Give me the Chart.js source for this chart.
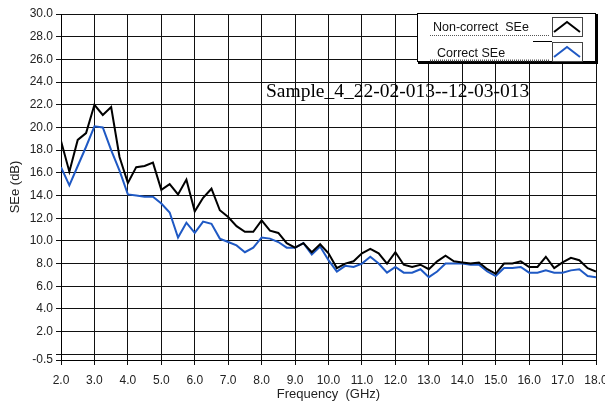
<!DOCTYPE html>
<html>
<head>
<meta charset="utf-8">
<script src="https://cdn.jsdelivr.net/npm/chart.js@4.4.1/dist/chart.umd.min.js"></script>
<style>
  html, body { margin: 0; padding: 0; background: #fff; }
  #wrap { width: 605px; height: 403px; }
</style>
</head>
<body>
<div id="wrap"><canvas id="see-chart" width="605" height="403"></canvas></div>
<script>
/*************************/
/**                     **/
/**        Data         **/
/**                     **/
/*************************/

var freqGHz = [
    2.0, 2.25, 2.5, 2.75, 3.0, 3.25, 3.5, 3.75,
    4.0, 4.25, 4.5, 4.75, 5.0, 5.25, 5.5, 5.75,
    6.0, 6.25, 6.5, 6.75, 7.0, 7.25, 7.5, 7.75,
    8.0, 8.25, 8.5, 8.75, 9.0, 9.25, 9.5, 9.75,
    10.0, 10.25, 10.5, 10.75, 11.0, 11.25, 11.5, 11.75,
    12.0, 12.25, 12.5, 12.75, 13.0, 13.25, 13.5, 13.75,
    14.0, 14.25, 14.5, 14.75, 15.0, 15.25, 15.5, 15.75,
    16.0, 16.25, 16.5, 16.75, 17.0, 17.25, 17.5, 17.75,
    18.0
];

var nonCorrectSEe = [
    18.8, 16.1, 18.9, 19.5, 22.0, 21.1, 21.8, 17.4,
    15.1, 16.5, 16.6, 16.9, 14.5, 15.0, 14.1, 15.4,
    12.6, 13.8, 14.6, 12.7, 12.1, 11.3, 10.8, 10.8,
    11.8, 10.9, 10.7, 9.8, 9.4, 9.8, 9.0, 9.7,
    8.9, 7.6, 8.0, 8.2, 8.9, 9.3, 8.9, 8.0,
    9.0, 7.9, 7.7, 7.9, 7.5, 8.2, 8.7, 8.2,
    8.1, 8.0, 8.1, 7.5, 7.1, 8.0, 8.0, 8.2,
    7.7, 7.7, 8.6, 7.6, 8.1, 8.5, 8.3, 7.6,
    7.3
];

var correctSEe = [
    16.5, 14.9, 16.6, 18.3, 20.1, 20.0, 18.0, 16.2,
    14.1, 14.0, 13.9, 13.9, 13.3, 12.5, 10.3, 11.6,
    10.7, 11.7, 11.5, 10.2, 9.9, 9.6, 9.0, 9.4,
    10.3, 10.2, 9.9, 9.4, 9.4, 9.8, 8.8, 9.5,
    8.3, 7.3, 7.8, 7.7, 8.0, 8.6, 8.0, 7.2,
    7.7, 7.2, 7.2, 7.5, 6.8, 7.3, 8.0, 8.0,
    8.0, 7.9, 7.9, 7.3, 6.9, 7.6, 7.6, 7.7,
    7.2, 7.2, 7.4, 7.2, 7.2, 7.4, 7.5, 6.9,
    6.8
];

var xTicks = [2, 3, 4, 5, 6, 7, 8, 9, 10, 11, 12, 13, 14, 15, 16, 17, 18];
var xTickLabels = ['2.0', '3.0', '4.0', '5.0', '6.0', '7.0', '8.0', '9.0', '10.0',
    '11.0', '12.0', '13.0', '14.0', '15.0', '16.0', '17.0', '18.0'];

var yTicks = [-0.5, 0, 2, 4, 6, 8, 10, 12, 14, 16, 18, 20, 22, 24, 26, 28, 30];
var yTickLabels = ['-0.5', '', '2.0', '4.0', '6.0', '8.0', '10.0', '12.0', '14.0',
    '16.0', '18.0', '20.0', '22.0', '24.0', '26.0', '28.0', '30.0'];

var seriesNames = ['Non-correct  SEe', 'Correct SEe'];
var seriesColors = ['#000000', '#1f59c4'];
var sampleTitle = 'Sample_4_22-02-013--12-03-013';

function toPoints(values) {
    return freqGHz.map(function (f, i) { return { x: f, y: values[i] }; });
}

/*************************/
/**                     **/
/**   Legend + caption  **/
/**                     **/
/*************************/

var overlayPlugin = {
    id: 'overlay',
    afterDraw: function (chart) {
        var ctx = chart.ctx;
        ctx.save();

        // caption inside the plot
        ctx.font = '19.5px "Liberation Serif"';
        ctx.fillStyle = '#000';
        ctx.textBaseline = 'alphabetic';
        ctx.fillText(sampleTitle, 266, 97);

        // legend frame with shadow
        ctx.fillStyle = '#fff';
        ctx.fillRect(417, 13, 178, 49);
        ctx.fillStyle = '#000';
        ctx.fillRect(595, 14, 3, 50);
        ctx.fillRect(418, 62, 180, 2);
        ctx.strokeStyle = '#000';
        ctx.lineWidth = 1;
        ctx.strokeRect(417.5, 13.5, 178, 48);

        // separator between rows
        ctx.beginPath();
        ctx.moveTo(533, 41.5);
        ctx.lineTo(552, 41.5);
        ctx.stroke();

        var rows = [
            { textX: 433, base: 31, line: 35.5, box: 17.5 },
            { textX: 437, base: 57, line: 60.5, box: 42.5 }
        ];
        ctx.font = '12.5px "Liberation Sans"';
        chart.data.datasets.forEach(function (ds, i) {
            var r = rows[i];
            ctx.fillStyle = '#111';
            ctx.fillText(ds.label, r.textX, r.base);

            ctx.save();
            ctx.setLineDash([1, 1]);
            ctx.strokeStyle = '#555';
            ctx.beginPath();
            ctx.moveTo(430, r.line);
            ctx.lineTo(549, r.line);
            ctx.stroke();
            ctx.restore();

            ctx.strokeStyle = '#444';
            ctx.lineWidth = 1;
            ctx.strokeRect(552.5, r.box, 30, 19);

            ctx.strokeStyle = ds.borderColor;
            ctx.lineWidth = 2;
            ctx.beginPath();
            ctx.moveTo(554, r.box + 14.5);
            ctx.lineTo(567, r.box + 4.5);
            ctx.lineTo(580, r.box + 14.5);
            ctx.stroke();
        });

        ctx.restore();
    }
};

/*************************/
/**                     **/
/**       SEe chart     **/
/**                     **/
/*************************/

var tickFont = { family: '"Liberation Sans"', size: 12 };
var titleFont = { family: '"Liberation Sans"', size: 13 };

var ctxS = document.getElementById('see-chart').getContext('2d');
var seeChart = new Chart(ctxS, {
    type: 'line',
    data: {
        datasets: [
            {
                label: seriesNames[0],
                data: toPoints(nonCorrectSEe),
                borderColor: seriesColors[0],
                borderWidth: 2,
                pointRadius: 0,
                tension: 0
            },
            {
                label: seriesNames[1],
                data: toPoints(correctSEe),
                borderColor: seriesColors[1],
                borderWidth: 2,
                pointRadius: 0,
                tension: 0
            }
        ]
    },
    options: {
        responsive: false,
        animation: false,
        devicePixelRatio: 1,
        layout: { padding: { top: 14, right: 9, left: 0, bottom: 0 } },
        plugins: {
            legend: { display: false },
            tooltip: { enabled: false }
        },
        scales: {
            x: {
                type: 'linear',
                min: 2,
                max: 18,
                afterBuildTicks: function (scale) {
                    scale.ticks = xTicks.map(function (v) { return { value: v }; });
                },
                afterFit: function (scale) {
                    scale.height = 43;
                    scale.paddingLeft = 0;
                    scale.paddingRight = 9;
                },
                ticks: {
                    autoSkip: false,
                    maxRotation: 0,
                    padding: 8,
                    color: '#222',
                    font: tickFont,
                    callback: function (value, index) { return xTickLabels[index]; }
                },
                grid: { color: '#111', tickColor: '#111', tickLength: 5, lineWidth: 1 },
                border: { color: '#000', width: 1 },
                title: {
                    display: true,
                    text: 'Frequency  (GHz)',
                    color: '#222',
                    font: titleFont,
                    padding: { top: 0, bottom: 1 }
                }
            },
            y: {
                min: -0.5,
                max: 30,
                afterBuildTicks: function (scale) {
                    scale.ticks = yTicks.map(function (v) { return { value: v }; });
                },
                afterFit: function (scale) {
                    scale.width = 61;
                },
                ticks: {
                    autoSkip: false,
                    padding: 3,
                    color: '#222',
                    font: tickFont,
                    callback: function (value, index) { return yTickLabels[index]; }
                },
                grid: { color: '#111', tickColor: '#111', tickLength: 5, lineWidth: 1 },
                border: { color: '#000', width: 1 },
                title: {
                    display: true,
                    text: 'SEe (dB)',
                    color: '#222',
                    font: titleFont,
                    padding: { top: 8, bottom: 0 }
                }
            }
        }
    },
    plugins: [overlayPlugin]
});
</script>
</body>
</html>
